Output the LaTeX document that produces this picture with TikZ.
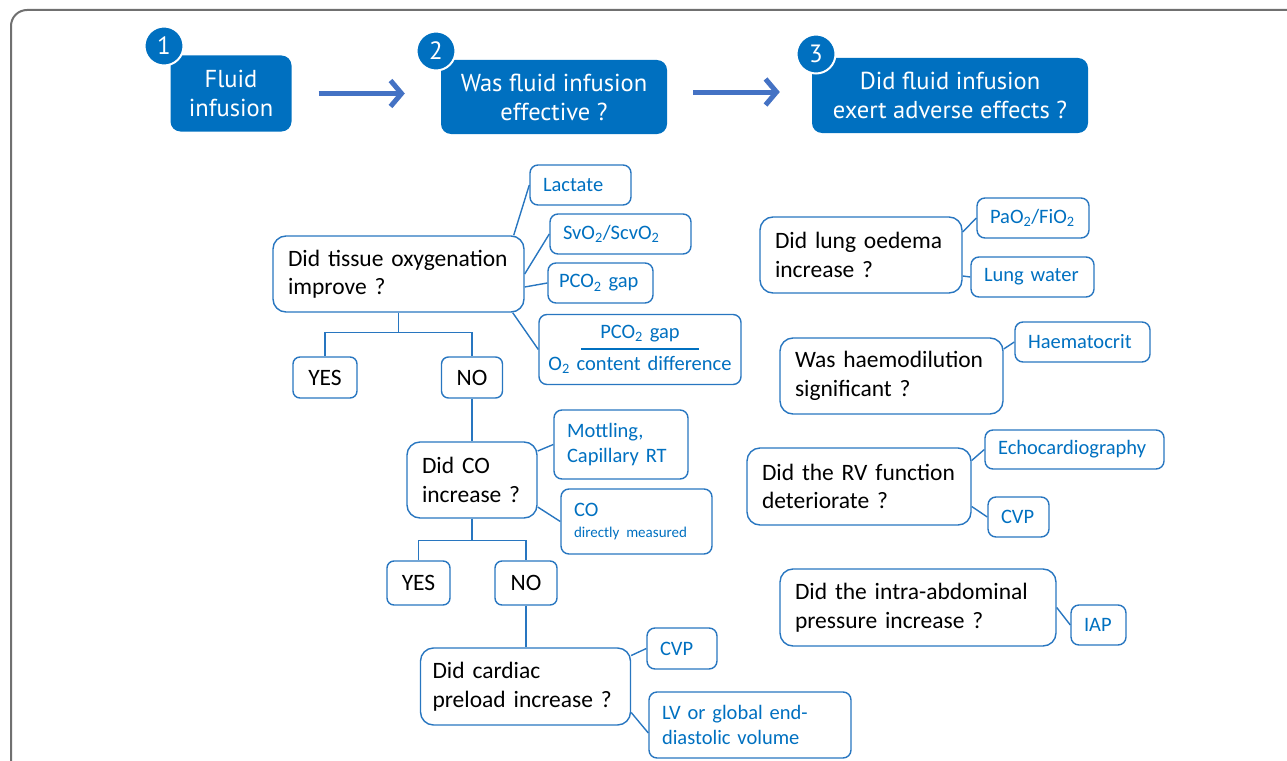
\documentclass[tikz,border=0pt]{standalone}
\usepackage{fontspec}
\setmainfont{Carlito}
\newfontfamily\headfont{PT Sans}
\usetikzlibrary{arrows.meta}
\definecolor{boxblue}{RGB}{0,112,192}
\definecolor{lineblue}{RGB}{40,118,192}
\definecolor{arrowblue}{RGB}{68,114,196}
\definecolor{framegray}{RGB}{112,112,112}
\begin{document}
\begin{tikzpicture}[x=1pt,y=-1pt,
    stepbox/.style={rectangle,fill=boxblue,rounded corners=10pt,text=white,align=center,inner sep=0pt,font=\headfont\fontsize{24.5}{29}\selectfont},
    stepnum/.style={circle,fill=boxblue,draw=white,line width=2pt,text=white,minimum size=39pt,inner sep=0pt,font=\headfont\fontsize{25}{25}\selectfont},
    qbox/.style={rectangle,draw=lineblue,line width=1.4pt,rounded corners=13pt,align=left,inner xsep=15pt,inner ysep=0pt,font=\fontsize{23.5}{28.5}\selectfont},
    cbox/.style={rectangle,draw=lineblue,line width=1.4pt,rounded corners=8pt,align=left,inner xsep=13pt,inner ysep=0pt,text=boxblue,font=\fontsize{20.5}{25}\selectfont},
    ybox/.style={rectangle,draw=lineblue,line width=1.4pt,rounded corners=7pt,inner sep=0pt,font=\fontsize{23.5}{28.5}\selectfont},
    link/.style={draw=lineblue,line width=1.4pt},
    go/.style={draw=arrowblue,line width=5pt,-{Straight Barb[length=11pt,width=26pt]}}]
    \useasboundingbox (0,0) rectangle (1287,760);
    \draw[framegray,line width=2pt,rounded corners=16pt] (11,780) -- (11,10) -- (1300,10);
    \node[stepbox,minimum width=121pt,minimum height=76pt] (s1) at (231,93.5) {Fluid\\infusion};
    \node[stepbox,minimum width=226pt,minimum height=74pt] (s2) at (554,97) {Was fluid infusion\\effective ?};
    \node[stepbox,minimum width=276pt,minimum height=75pt] (s3) at (950,95.5) {Did fluid infusion\\exert adverse effects ?};
    \node[stepnum] (n1) at (164,46) {1};
    \node[stepnum] (n2) at (436,51) {2};
    \node[stepnum] (n3) at (816,54) {3};
    \draw[go,shorten <=27pt,shorten >=36pt] (s1.east) -- (s1.east -| s2.west);
    \draw[go,shorten <=26pt,shorten >=32pt] ([yshift=5pt]s2.east) -- ([yshift=5pt]s2.east -| s3.west);
    \node[qbox,text width=221pt,minimum height=76pt] (tissue) at (398.5,274) {Did tissue oxygenation\\improve ?};
    \node[cbox,text width=75pt,minimum height=40pt] (lact) at (580.5,185) {Lactate};
    \node[cbox,text width=115pt,minimum height=40pt] (svo) at (620.5,234) {SvO\textsubscript{2}/ScvO\textsubscript{2}};
    \node[cbox,inner xsep=11pt,text width=83pt,minimum height=40pt] (gap) at (600.5,283) {PCO\textsubscript{2} gap};
    \node[cbox,align=center,inner xsep=5pt,text width=192pt,minimum height=70pt] (ratio) at (640,349.5) {PCO\textsubscript{2} gap\\[-14pt]\rule{118pt}{1.2pt}\\[-4pt]O\textsubscript{2} content difference};
    \node[ybox,minimum width=64pt,minimum height=41pt] (yes1) at (325,377.5) {YES};
    \node[ybox,minimum width=61pt,minimum height=41pt] (no1) at (472,377.5) {NO};
    \node[qbox,text width=100pt,minimum height=76pt] (co) at (472,480) {Did CO\\increase ?};
    \node[cbox,text width=108pt,minimum height=69pt] (mott) at (621,444.5) {Mottling,\\Capillary RT};
    \node[cbox,text width=125pt,minimum height=65pt] (comeas) at (636.5,521.5) {CO\\[-4pt]{\fontsize{15}{18}\selectfont directly measured}};
    \node[ybox,minimum width=63pt,minimum height=44pt] (yes2) at (418.5,583) {YES};
    \node[ybox,minimum width=62pt,minimum height=44pt] (no2) at (526,583) {NO};
    \node[qbox,inner xsep=12pt,text width=186pt,minimum height=77pt] (pre) at (525.5,686.5) {Did cardiac\\preload increase ?};
    \node[cbox,text width=44pt,minimum height=41pt] (cvpa) at (682,648.5) {CVP};
    \node[cbox,text width=176pt,minimum height=66pt] (lved) at (750,725) {LV or global end-\\diastolic volume};
    \node[qbox,text width=172pt,minimum height=76pt] (lung) at (861,255) {Did lung oedema\\increase ?};
    \node[cbox,text width=86pt,minimum height=40pt] (pafi) at (1033,218) {PaO\textsubscript{2}/FiO\textsubscript{2}};
    \node[cbox,text width=97pt,minimum height=40pt] (lwat) at (1032.5,277) {Lung water};
    \node[qbox,text width=193pt,minimum height=76pt] (haemo) at (891.5,376) {Was haemodilution\\significant ?};
    \node[cbox,text width=109pt,minimum height=40pt] (hct) at (1082.5,342) {Haematocrit};
    \node[qbox,text width=194pt,minimum height=77pt] (rv) at (859,486.5) {Did the RV function\\deteriorate ?};
    \node[cbox,text width=153pt,minimum height=39pt] (echo) at (1074.5,449.5) {Echocardiography};
    \node[cbox,text width=35pt,minimum height=40pt] (cvpb) at (1018.5,517) {CVP};
    \node[qbox,text width=246pt,minimum height=77pt] (abd) at (918,607.5) {Did the intra-abdominal\\pressure increase ?};
    \node[cbox,text width=29pt,minimum height=40pt] (iap) at (1098.5,625) {IAP};
    \draw[link] ([xshift=-11pt]tissue.north east) -- (lact.west);
    \draw[link] (tissue.east) -- (svo.west);
    \draw[link] ([yshift=-13pt]tissue.east) -- (gap.west);
    \draw[link] ([xshift=-12pt]tissue.south east) -- (ratio.west);
    \draw[link] (tissue.south) -- ++(0,20) -| (yes1.north);
    \draw[link] (tissue.south) -- ++(0,20) -| (no1.north);
    \draw[link] (no1) -- (co);
    \draw[link] ([yshift=29pt]co.east) -- (mott.west);
    \draw[link] ([yshift=-27pt]co.east) -- (comeas.west);
    \draw[link] (co.south) -- ++(0,22) -| (yes2.north);
    \draw[link] (co.south) -- ++(0,22) -| (no2.north);
    \draw[link] (no2.south) -- (no2.south |- pre.north);
    \draw[link] ([yshift=31pt]pre.east) -- (cvpa.west);
    \draw[link] ([yshift=-26pt]pre.east) -- ([yshift=-8pt]lved.west);
    \draw[link] ([yshift=23pt]lung.east) -- (pafi.west);
    \draw[link] ([yshift=-21pt]lung.east) -- (lwat.west);
    \draw[link] ([yshift=27pt]haemo.east) -- (hct.west);
    \draw[link] ([yshift=26pt]rv.east) -- (echo.west);
    \draw[link] ([yshift=-20pt]rv.east) -- (cvpb.west);
    \draw[link] (abd.east) -- (iap.west);
\end{tikzpicture}
\end{document}
